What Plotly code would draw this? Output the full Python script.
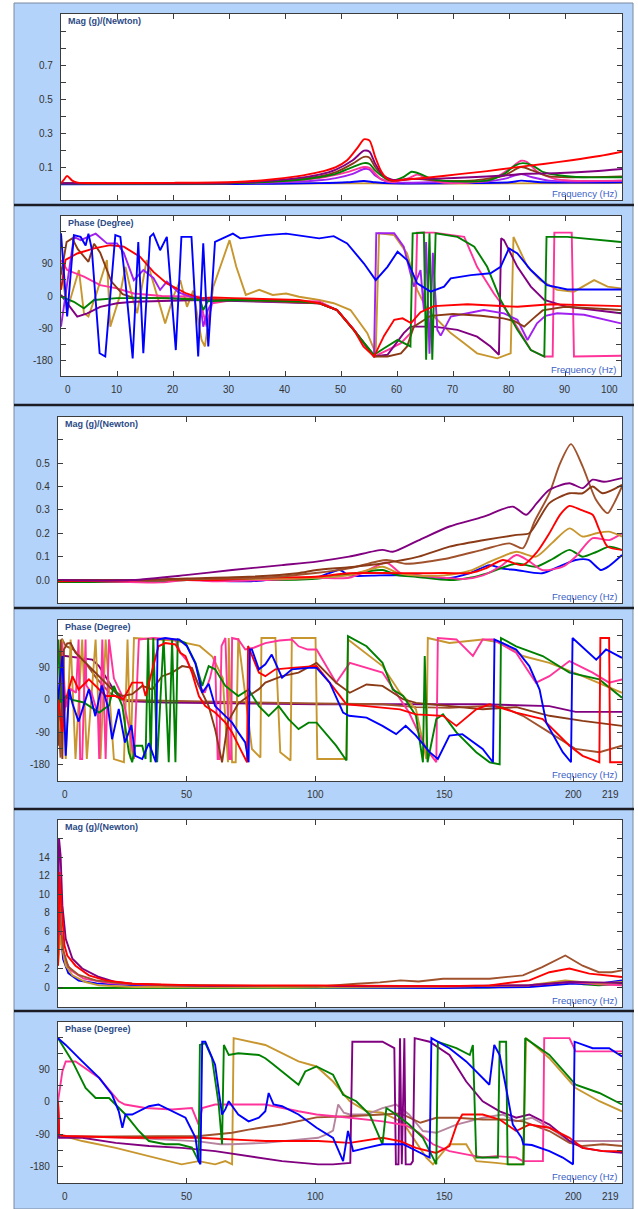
import plotly.graph_objects as go

# ---------------- data (frequency Hz, value) ----------------
# Panel 1 : magnitude 0-100 Hz
P1_GOLD = [(0,0.002),(20,0.002),(41,0.003),(56,0.004),(61,0.003),(81,0.004),(100,0.006)]
P1_BLUE = [(0,-0.001),(31,0.0),(46,0.005),(51,0.01),(54,0.018),(56,0.01),(59,0.004),(71,0.005),(80,0.01),(82,0.02),(85,0.012),(92,0.008),(100,0.01)]
P1_VIOLET = [(0,0.004),(31,0.005),(41,0.012),(46,0.022),(49,0.035),(52,0.06),(54,0.088),(55,0.085),(56,0.05),(58,0.015),(61,0.008),(66,0.01),(76,0.015),(79,0.03),(82,0.058),(84,0.04),(87,0.02),(91,0.015),(100,0.02)]
P1_PINK = [(0,0.005),(31,0.006),(41,0.02),(46,0.035),(51,0.07),(54,0.1),(55,0.095),(57,0.03),(59,0.012),(62,0.035),(63.5,0.055),(65.5,0.03),(68,0.008),(73,0.008),(77,0.03),(80,0.09),(82,0.137),(83,0.13),(85,0.07),(88,0.03),(91,0.02),(100,0.02)]
P1_GREEN = [(0,0.004),(31,0.005),(41,0.02),(46,0.04),(49,0.06),(52,0.1),(54,0.123),(55,0.118),(56,0.08),(58,0.03),(59,0.02),(61,0.04),(62.5,0.072),(64,0.06),(66,0.03),(68,0.02),(73,0.015),(76,0.02),(79,0.06),(81,0.11),(82.3,0.123),(84,0.11),(86,0.07),(89,0.05),(93,0.04),(100,0.04)]
P1_BROWN = [(0,0.004),(31,0.006),(41,0.025),(46,0.045),(49,0.07),(52,0.12),(54,0.16),(55,0.155),(56,0.1),(58,0.03),(59,0.02),(63,0.03),(67,0.02),(73,0.02),(79,0.05),(82,0.1),(84,0.08),(87,0.045),(91,0.04),(100,0.045)]
P1_PURPLE = [(0,0.005),(31,0.008),(41,0.03),(46,0.055),(49,0.085),(52,0.14),(54,0.196),(55,0.19),(56,0.12),(57.5,0.05),(59,0.025),(63,0.03),(67,0.032),(73,0.04),(79,0.05),(83,0.06),(89,0.065),(95,0.075),(100,0.088)]
P1_RED = [(0,0.005),(0.5,0.025),(1.1,0.047),(2,0.02),(3,0.008),(6,0.006),(20,0.007),(31,0.012),(37,0.025),(42,0.045),(46,0.07),(49,0.1),(51,0.14),(53,0.22),(54,0.263),(55,0.255),(56,0.16),(57,0.08),(58,0.035),(59,0.02),(61,0.025),(66,0.04),(71,0.058),(76,0.076),(81,0.098),(86,0.118),(91,0.14),(96,0.165),(100,0.19)]

# Panel 2 : phase 0-100 Hz
P2_GOLD = [(0,81),(1.1,-39),(3.2,72),(4.1,-48),(4.9,-57),(6.4,10),(8.2,100),(8.8,-85),(10.5,0),(11.5,81),(12.7,0),(13.6,-48),(15.3,100),(16.5,35),(18.6,-76),(20.1,0),(21.3,44),(22.5,-30),(23.6,15),(25.1,-122),(25.7,-140),(27.2,26),(30.1,155),(31.3,81),(33,3),(35.4,17),(37.8,3),(40.2,7),(42.5,-2),(46.1,-11),(48.7,-20),(51.7,-39),(54.7,-103),(56.2,-159),(56.8,174),(59.5,169),(61.8,118),(63.6,17),(65.4,-39),(67.2,-66),(69.6,-103),(72,-131),(74.3,-159),(77.9,-173),(80.3,-159),(80.8,164),(83.3,81),(85.6,44),(88.6,17),(91.6,12),(95.2,44),(97.6,26),(100,21)]
P2_PINK = [(0,100),(1.1,72),(4.1,54),(7,30),(10,21),(13,7),(18,0),(24.8,-2),(25.4,-48),(26,-85),(27,-20),(30.7,-11),(46.1,-15),(49.3,-39),(52.3,-94),(55.9,-168),(58.3,-150),(60.7,-131),(62.4,-103),(63.2,-80),(63.6,176),(66.6,176),(72,164),(74.3,81),(77.3,7),(80.3,-57),(83.9,-150),(86.3,-168),(87.8,-168),(88.1,176),(91.2,176),(91.6,-168),(100,-166)]
P2_PURPLE = [(0,3),(1.1,-20),(2.9,-57),(4.7,-48),(7,-30),(10,-20),(13,-16),(24.8,-11),(46.1,-20),(49.3,-39),(52.3,-94),(55.9,-168),(58.3,-163),(61.2,-103),(62.4,-85),(66.6,-85),(70.8,-94),(74.3,-113),(76.7,-140),(78.2,-163),(78.6,160),(79.1,155),(81.5,81),(83.9,26),(86.3,-11),(90.4,-30),(100,-48)]
P2_VIOLET = [(0,-85),(1,30),(2.3,164),(3.5,155),(6.2,173),(8.2,146),(10,146),(11.2,120),(13,44),(14.7,72),(16.5,50),(17.7,17),(18.9,40),(21,10),(24.8,-11),(25.4,-85),(26.2,-40),(27.2,-11),(30.7,-11),(46.1,-20),(49.3,-39),(52.3,-94),(55.9,-168),(56.3,174),(59.5,174),(61.2,137),(63,26),(64.2,72),(64.8,-39),(65.2,150),(65.8,-160),(66.4,120),(67.2,-94),(67.8,-110),(69.6,-57),(72.6,-48),(75.5,-39),(79.1,-48),(81.5,-66),(83.3,-122),(85,-76),(86.5,-55),(88.6,-48),(93.4,-52),(100,-76)]
P2_BROWN = [(0,60),(1,150),(2,160),(3,130),(4.9,95),(5.9,145),(7,120),(9,40),(11,5),(13,-5),(25,-8),(30,-10),(46,-20),(49.3,-39),(52.3,-94),(55.9,-168),(58.3,-168),(60.7,-159),(61.8,-140),(63,-85),(66,-55),(70,-50),(75,-55),(79,-62),(81,-70),(82.7,-85),(84.5,-60),(86,-40),(90,-30),(100,-39)]
P2_GREEN = [(0,-2),(2.3,-16),(4.1,-34),(5.9,-11),(10,-6),(18.9,-6),(24.8,-11),(25.4,-39),(26.2,-15),(30.7,-11),(42.5,-15),(46.1,-20),(49.3,-39),(52.3,-94),(55.9,-163),(57.7,-145),(60.1,-122),(62.4,-140),(62.8,174),(64.8,176),(65.2,-177),(65.8,174),(66.3,-177),(66.9,174),(70.8,164),(73.8,137),(76.1,81),(78.5,-11),(81.5,-94),(83.9,-150),(86.3,-168),(86.7,164),(90.4,164),(100,150)]
P2_RED = [(0,17),(0.8,100),(2.9,118),(5.9,132),(8.8,141),(11.2,137),(14.1,109),(16.5,67),(18.9,35),(22.4,7),(24.8,-6),(27.2,-4),(30.7,-6),(42.5,-11),(46.1,-20),(49.3,-39),(52.3,-94),(54,-140),(55.9,-168),(57.7,-110),(59.5,-66),(61,-62),(62.5,-75),(64.2,-45),(66.6,-28),(72.6,-23),(81.5,-30),(87.4,-23),(100,-28)]
P2_BLUE = [(0,174),(1.1,-57),(2.3,169),(3.5,164),(4.4,140),(4.9,173),(5.5,130),(6.9,-159),(7.9,-168),(9.7,169),(10.6,164),(11.5,40),(12.8,-173),(13.8,150),(14.7,-159),(15.9,164),(16.5,173),(17.7,127),(18.9,164),(20.5,-150),(21.5,164),(23.3,164),(24.5,-168),(25.4,146),(26.3,-140),(27.5,150),(30.7,173),(32,160),(36.6,169),(40.2,173),(46.1,160),(48.7,166),(51.1,146),(54.1,90),(56.2,44),(58.3,81),(60.1,123),(61.8,100),(63.6,35),(66,12),(68.4,26),(69.6,49),(73.2,58),(76.7,63),(78.5,81),(80,132),(81.5,118),(83.9,72),(86.8,30),(90.4,18),(100,18)]

# Panel 3 : magnitude 0-219 Hz
P3_BLUE = [(0,-0.005),(20,-0.003),(40,0.0),(50,0.005),(55,0.0),(75,-0.005),(85,0.005),(100,0.01),(109.4,0.043),(113,0.02),(125,0.02),(139,0.021),(150.8,0.007),(160,0.03),(167.6,0.064),(172,0.05),(178,0.043),(188,0.029),(195,0.06),(201,0.086),(206,0.086),(210.8,0.043),(214,0.06),(219,0.107)]
P3_GREEN = [(0,-0.008),(30,-0.008),(50,0.0),(60,0.005),(80,0.0),(100,0.005),(110,0.02),(126,0.043),(132,0.02),(139,0.014),(152,0.0),(160,0.01),(167,0.03),(178,0.071),(185.6,0.057),(192,0.09),(198.6,0.129),(203.7,0.1),(209,0.12),(214,0.143),(219,0.129)]
P3_PINK = [(0,0.0),(40,-0.01),(50,0.0),(60,-0.005),(80,0.0),(100,0.01),(113,0.01),(120,0.04),(127.5,0.075),(133,0.03),(139,0.02),(150,0.01),(158,0.005),(165,0.02),(172,0.06),(178,0.107),(183,0.08),(188,0.043),(196,0.057),(201,0.1),(207.6,0.179),(214,0.171),(219,0.2)]
P3_GOLD = [(0,0.0),(40,0.0),(60,0.005),(80,0.005),(100,0.01),(113,0.02),(126,0.057),(132,0.03),(139,0.02),(150,0.02),(160,0.04),(168,0.08),(178,0.121),(185.6,0.1),(192,0.16),(198.6,0.221),(203.7,0.186),(209,0.2),(214,0.207),(219,0.186)]
P3_RED = [(0,-0.005),(40,0.0),(60,0.0),(80,0.01),(100,0.014),(113,0.029),(126,0.03),(139,0.029),(150,0.03),(160,0.03),(166,0.05),(172.7,0.086),(180.5,0.064),(186,0.12),(190.8,0.2),(195,0.28),(198.6,0.317),(203,0.3),(207.6,0.279),(210,0.22),(213.4,0.143),(219,0.129)]
P3_SIENNA = [(0,0.0),(40,0.0),(60,0.005),(80,0.01),(100,0.03),(113,0.05),(127.5,0.086),(135,0.07),(150,0.09),(165,0.13),(175.3,0.157),(180.5,0.136),(185,0.25),(190.8,0.371),(195,0.5),(199.2,0.581),(203.7,0.486),(208.9,0.343),(213.4,0.286),(216,0.33),(219,0.4)]
P3_BROWN = [(0,0.0),(30,0.0),(50,0.007),(74,0.014),(93,0.029),(100.4,0.043),(113,0.055),(126,0.071),(140,0.1),(152,0.143),(165,0.17),(178,0.193),(183,0.2),(190.8,0.329),(198.6,0.371),(203.7,0.371),(207.6,0.4),(211.5,0.371),(219,0.407)]
P3_PURPLE = [(0,0.0),(28.8,0.0),(49.5,0.021),(67.6,0.043),(87,0.064),(100.4,0.079),(113,0.1),(126,0.129),(130,0.121),(140,0.17),(152,0.229),(165,0.27),(176.6,0.314),(181.8,0.279),(186,0.33),(190.8,0.386),(198.6,0.414),(203.7,0.393),(207.6,0.429),(212,0.42),(219,0.436)]

# Panel 4 : phase 0-219 Hz
P4_PURPLE = [(0,125),(3,122),(8,117),(13.3,112),(15.9,94),(19.8,48),(22.4,20),(26.2,-3),(41.7,-7),(67.6,-9),(101,-12),(126,-12),(164.9,-12),(190.8,-17),(201,-33),(219,-33)]
P4_SIENNA = [(0,-60),(1,-160),(1.5,170),(3,150),(6,140),(10,110),(15,60),(20,20),(25,0),(40,-2),(60,-5),(80,-8),(101,-10),(126,-12),(139,-20),(152,-22),(164.9,-17),(172.7,-20),(180.5,-44),(190.8,-90),(201,-136),(210.2,-145),(219,-127)]
P4_GOLD = [(0,-90),(1.7,168),(3,-164),(4.9,168),(6.8,-164),(9.4,168),(11.2,-164),(14.6,168),(16.5,-164),(18.5,168),(21.7,-164),(25.6,-173),(27,168),(28.2,-164),(29.5,172),(35,170),(45,165),(55,150),(60,120),(64,60),(65.5,-100),(66,-173),(66.3,172),(67.6,-173),(69,-173),(70,172),(75.3,-136),(78,-155),(78.6,-160),(79,172),(84.4,172),(86.3,-145),(89.5,-164),(90.3,-168),(90.8,172),(98.6,172),(100,172),(100.7,-164),(112,-164),(112.6,168),(126,94),(132.8,20),(139,-26),(141.7,-118),(143,-164),(143.6,172),(152,158),(164.9,168),(172.7,158),(180.5,122),(190.8,103),(203.7,66),(219,20)]
P4_PINK = [(0,100),(1.5,160),(3,-20),(5,30),(7,20),(8,168),(8.6,-164),(9.4,-164),(10.7,168),(11,40),(13,20),(15.5,-40),(16,-164),(17.2,168),(18.5,-164),(19.8,168),(21.7,60),(25,10),(28,-90),(29.5,-164),(31.4,168),(37,172),(45.6,168),(47.5,131),(50,110),(52,80),(54.7,40),(57,20),(59,60),(61,122),(62,-164),(62.6,-164),(63.5,150),(65,172),(66.5,-164),(67.2,-164),(67.6,172),(70,168),(72.7,140),(76,145),(80.5,158),(86,165),(90.8,168),(93.4,149),(97,140),(100.4,140),(108,48),(113.3,103),(126,76),(136.3,-35),(143,-136),(146.9,-173),(147.5,172),(154.7,168),(161.1,122),(164.9,168),(168.8,168),(177.9,131),(185.6,48),(190.8,66),(198.6,108),(207.6,76),(214,48),(219,57)]
P4_BROWN = [(0,-127),(1,168),(1.7,-164),(2.3,140),(3.6,157),(4.9,158),(6.8,131),(10.7,103),(14.6,76),(18.5,48),(21,29),(25,11),(28.8,16),(32.7,39),(36.6,29),(40.4,66),(44.3,76),(48.2,94),(52,89),(54.7,39),(58.5,-17),(61,-81),(63,-145),(63.7,-173),(66,-60),(70,-10),(74,11),(78,30),(80.5,48),(87,66),(93.4,76),(100.4,103),(108,48),(113.3,20),(119.8,43),(126,39),(134,2),(139,-8),(164.9,-26),(178,-20),(190.8,-44),(203.7,-58),(219,-72)]
P4_GREEN = [(0,168),(1,-7),(3,10),(5.6,0),(10,-7),(16,-35),(19.8,-15),(21.7,39),(25,-17),(27.5,-145),(28.8,-173),(30,-127),(32.7,-127),(34,-164),(35,172),(36,-173),(37,172),(38.5,-173),(41,172),(43,-173),(44.3,168),(45.6,-173),(46.5,168),(49.5,158),(53.4,103),(56,39),(58.5,94),(61,85),(65,39),(70,11),(74,29),(78,-17),(81.8,-44),(85.7,-17),(89.5,-53),(93.4,-81),(97.3,-63),(100.4,-63),(108,-127),(112,-168),(112.6,177),(119.8,149),(126,103),(130,29),(134,11),(139,-44),(141.7,-173),(142.4,122),(143.5,-173),(146.9,-53),(149.5,-40),(154.7,-90),(162.4,-145),(167.6,-173),(171.5,-179),(172,172),(177.9,149),(188.2,122),(198.6,76),(210.2,57),(219,6)]
P4_RED = [(0,2),(1.7,-90),(3,0),(5.6,66),(8,29),(12,57),(16,29),(18.5,11),(22.4,11),(25.4,2),(28.8,48),(32.7,48),(34,11),(39,149),(41.7,158),(45.6,154),(47.5,131),(49.5,122),(52,76),(54.7,11),(57.2,-17),(61,-35),(65,-63),(67.6,-90),(71.4,-145),(73.4,-173),(73.8,150),(75.3,122),(78,76),(80.5,66),(84.4,85),(90.8,89),(100.4,94),(105.5,48),(112,-12),(119.8,-17),(132.8,-26),(139,-40),(149.5,-44),(154.7,-72),(162.4,-26),(167.6,-12),(177.9,-35),(188.2,-53),(198.6,-127),(203.7,-155),(210.2,-173),(210.6,172),(214,172),(214.4,-173),(219,-173)]
P4_BLUE = [(0,2),(1.7,122),(3,-155),(4.3,30),(5.6,-10),(8,-60),(12,30),(14.5,-45),(17,40),(19.4,-20),(21,-109),(23.6,-25),(26,-118),(28.5,-70),(30,-155),(32.7,-164),(35.3,-120),(38,-173),(38.7,168),(41.7,172),(45.6,168),(47,168),(50,150),(53.4,100),(56,20),(58.5,45),(61,-17),(65,-44),(67.6,-63),(70,-90),(72.7,-118),(74,-173),(74.5,140),(75.3,140),(78,85),(80.5,99),(83,126),(87,62),(90.8,85),(97.3,89),(100.4,89),(105.5,48),(110.7,-35),(113,-44),(119.8,-49),(126,-72),(131.3,-95),(135,-72),(139,-99),(144.3,-145),(147.5,-164),(152,-99),(157,-95),(164.9,-136),(168.9,-173),(169.5,168),(177.9,140),(183,94),(187,29),(189.6,-63),(196,-145),(199.2,-173),(199.8,172),(209,112),(212.8,140),(219,117)]

# Panel 5 : magnitude 0-219 Hz
P5_GREEN = [(0,-0.1),(100,-0.1),(167,-0.05),(180,0.1),(190.8,0.36),(198.6,0.54),(204,0.3),(210,0.18),(219,0.36)]
P5_BLUE = [(0,2.5),(0.4,12),(1,6),(2,3),(4,1.5),(8,0.7),(15,0.4),(30,0.2),(60,0.05),(100,-0.05),(150,-0.1),(160,-0.05),(183,0.0),(198.6,0.36),(210,0.36),(219,0.72)]
P5_PINK = [(0,3),(0.6,9),(1.2,6),(2.5,3),(5,1.8),(10,0.9),(20,0.4),(40,0.2),(80,0.1),(100,0.05),(150,0.05),(183,0.2),(198.6,0.54),(210,0.3),(219,0.2)]
P5_GOLD = [(0,2.3),(1,5.6),(1.7,4.1),(3,2.3),(5.6,1.26),(10.7,0.54),(15.9,0.18),(30,0.0),(100,0.0),(150,0.05),(183,0.2),(197,0.72),(210,0.36),(219,0.54)]
P5_PURPLE = [(0,4),(0.4,16),(1,14.2),(1.7,8.8),(3,5.2),(5.6,3.05),(9.4,2.0),(15.9,1.08),(22.4,0.54),(28.8,0.36),(41.7,0.18),(60,0.1),(100,0.1),(150,0.1),(183,0.2),(198.6,0.54),(219,0.45)]
P5_BROWN = [(0,3),(0.5,10),(1,7),(2,4),(4,2.2),(8,1.3),(15,0.7),(25,0.4),(40,0.25),(60,0.18),(80,0.15),(100.4,0.05),(116,0.36),(125,0.5),(133,0.72),(140,0.6),(149.5,0.9),(167.6,0.9),(180.5,1.26),(188,2.15),(197,3.4),(203.7,2.3),(210,1.6),(215,1.6),(219,1.8)]
P5_RED = [(0,2.3),(0.6,12.4),(1,10.2),(1.7,7),(2.5,4.5),(3.6,3.4),(6.8,2.3),(12,1.26),(18.5,0.72),(28.8,0.36),(54.7,0.18),(101,0.18),(150,0.1),(167.6,0.18),(183,0.72),(190.8,1.6),(198.6,2.0),(206.3,1.44),(219,1.08)]

# Panel 6 : phase 0-219 Hz
P6_GOLD = [(0,-91),(9.4,-109),(22.4,-128),(35.3,-151),(48,-174),(54.6,-165),(61,-174),(65,-165),(67.6,-174),(68.2,178),(80.5,159),(93.4,113),(100.4,99),(106.8,57),(113.3,2),(119.8,-26),(126,-30),(134,-58),(143,-155),(145.6,-174),(152,-118),(158.5,-118),(162.4,-165),(170,-170),(175.3,-174),(180.5,-174),(181.8,178),(190.8,122),(201,39),(210.2,2),(219,-26)]
P6_MAUVE = [(0,2),(0.4,-95),(28.8,-100),(54.6,-110),(63,-118),(67.6,-118),(80.5,-114),(101,-100),(104,-91),(106.8,-80),(108.8,-7),(111,-30),(113.3,-35),(119.8,-35),(126,-17),(131.3,-7),(136.3,-35),(141.7,-81),(146.9,-86),(154.7,-63),(164.9,-44),(172.7,-35),(177.9,-54),(184,-44),(190.8,-72),(198.6,-109),(203.7,-109),(219,-109)]
P6_BROWN = [(0,2),(0.4,-95),(5.6,-97),(30,-95),(55,-95),(67.6,-86),(74,-77),(87,-63),(100.4,-43),(113,-40),(126,-35),(133,-32),(140.7,-58),(146.9,-44),(154.7,-44),(164.9,-49),(172.7,-49),(180.5,-54),(190.8,-81),(198.6,-114),(203.7,-123),(211.5,-118),(219,-123)]
P6_PURPLE = [(0,2),(0.4,-100),(9.4,-100),(22.4,-114),(35.3,-123),(48,-128),(61,-137),(74,-151),(87,-165),(101,-174),(106.8,-174),(113.5,-170),(114.3,168),(126,168),(130.6,150),(131.2,-174),(132.2,-174),(132.8,178),(133.5,-174),(134.5,178),(135,-174),(137,-174),(137.8,-165),(138.5,178),(144.3,168),(152,131),(158.5,57),(164.9,2),(171.5,-26),(177.9,-44),(183,-35),(190.8,-63),(198.6,-109),(203.7,-128),(211.5,-137),(219,-142)]
P6_PINK = [(0,2),(1.7,85),(3,113),(6.8,113),(16,67),(23.6,2),(26,-7),(34,-17),(44.3,-21),(52,-17),(54.6,-63),(56,-17),(61,-7),(80.5,-7),(93.4,-26),(100.4,-35),(113.3,-44),(126,-54),(135,-65),(140,-85),(145.6,-118),(152,-137),(158.5,-146),(164.9,-155),(170,-151),(177.9,-155),(180.5,-165),(188.3,-165),(188.8,178),(198.6,178),(201,141),(210.2,141),(219,141)]
P6_RED = [(0,2),(0.4,-91),(3,-95),(28.8,-100),(54.6,-100),(67.6,-104),(80.5,-109),(101,-109),(113.3,-114),(126,-100),(132.8,-109),(139,-128),(146.9,-142),(152,-123),(155,-60),(157,-35),(164.9,-35),(171.5,-49),(177.9,-81),(183,-63),(190.8,-72),(198.6,-100),(203.7,-128),(211.5,-137),(219,-137)]
P6_GREEN = [(0,178),(5.6,113),(10.7,39),(14.6,11),(19.8,11),(23.6,-17),(26.2,-35),(31.4,-81),(35.3,-109),(41.7,-118),(47,-118),(52,-127),(54.6,-165),(55.1,159),(57.2,164),(59.8,122),(62.4,-7),(63.7,-118),(64.4,159),(66.3,131),(70,136),(78,131),(80.5,122),(83,108),(87,85),(93.4,48),(96,85),(100.4,99),(106.8,76),(110.7,20),(115.8,2),(121,-35),(126,-118),(127.5,-17),(131.3,-35),(136.3,-63),(141.7,-100),(146.9,-174),(147.5,168),(154.7,150),(159.9,131),(161.1,159),(162.4,-155),(170.8,-155),(171.5,168),(174,168),(174.6,-174),(180.8,-174),(181.4,178),(190.8,131),(201,48),(210.2,25),(219,-7)]
P6_BLUE = [(0,178),(3,159),(9.4,113),(16,67),(21,20),(23.6,-26),(25,-72),(26.2,-35),(28.8,-35),(31.4,-26),(35.3,-12),(39,-7),(44.3,-26),(49.5,-44),(53.4,-100),(54.6,-165),(55.3,-174),(56,168),(57.2,168),(61,104),(63.7,-35),(65,-20),(66.3,2),(70,-35),(74,-54),(78,-44),(80.5,-26),(81.8,25),(83.7,-7),(87,-12),(93.4,-35),(100.4,-72),(106.8,-100),(110.7,-165),(112.6,-81),(114.6,-137),(119.8,-128),(126,-118),(134,-118),(139,-137),(144.3,-155),(145,178),(152,150),(158.5,113),(164.9,67),(167.5,48),(169.4,159),(171.5,131),(174,39),(176.6,-63),(180,-100),(180.7,-118),(184,-120),(190.8,-137),(196,-155),(200,-174),(200.6,168),(207.6,150),(214,150),(219,127)]

# axis ticks / labels
MAG1_TICKS = [0.1,0.2,0.3,0.4,0.5,0.6,0.7,0.8,0.9]
MAG1_TEXT = ['0.1','','0.3','','0.5','','0.7','','']
MAG2_TICKS = [0.0,0.1,0.2,0.3,0.4,0.5,0.6]
MAG2_TEXT = ['0.0','0.1','0.2','0.3','0.4','0.5','']
MAG3_TICKS = [0,2,4,6,8,10,12,14,16]
MAG3_TEXT = ['0','2','4','6','8','10','12','14','']
PHASE_TICKS = [-180,-135,-90,-45,0,45,90,135,180]
PHASE_TEXT = ['-180','','-90','','0','','90','','']
FREQ_A_TICKS = [0,10,20,30,40,50,60,70,80,90,100]
FREQ_B_TICKS = [0,50,100,150,200,219]

C = dict(red='#ff0000', purple='#800080', brown='#8b3a16', sienna='#a0522d',
         green='#008000', blue='#0000ff', pink='#ff3399', gold='#c8962e',
         violet='#a020f0', mauve='#b7849f')

W, H = 638, 1209
PLOT_PX = [(61, 622, 14, 200), (61, 621, 216, 376), (58, 622, 417, 603),
           (58, 622, 620, 781), (58, 622, 820, 1007), (58, 622, 1022, 1183)]
FRAME_PX = [(14, 633, 3, 205), (14, 633, 205, 405), (14, 633, 405, 608),
            (14, 633, 608, 809), (14, 633, 809, 1011), (14, 633, 1011, 1209)]
X_RANGES = [[0, 100], [0, 100], [0, 219], [0, 219], [0, 219], [0, 219]]
Y_RANGES = [[-0.094, 1.0], [-222, 222], [-0.098, 0.697], [-225, 222], [-2.15, 18], [-226, 223]]

def fx(px): return px / W
def fy(py): return 1 - py / H

fig = go.Figure()

def add(panel, pts, color, shape='linear', width=1.9):
    sfx = '' if panel == 1 else str(panel)
    fig.add_trace(go.Scatter(
        x=[p[0] for p in pts], y=[p[1] for p in pts], mode='lines',
        line=dict(color=color, width=width, shape=shape, smoothing=0.7 if shape == 'spline' else None),
        xaxis='x' + sfx, yaxis='y' + sfx, showlegend=False, hoverinfo='skip'))

for pts, c in [(P1_GOLD,'gold'),(P1_BLUE,'blue'),(P1_VIOLET,'violet'),(P1_PINK,'pink'),(P1_BROWN,'brown'),(P1_GREEN,'green'),(P1_PURPLE,'purple'),(P1_RED,'red')]:
    add(1, pts, C[c], 'spline')
for pts, c in [(P2_GOLD,'gold'),(P2_PINK,'pink'),(P2_PURPLE,'purple'),(P2_VIOLET,'violet'),(P2_BROWN,'brown'),(P2_GREEN,'green'),(P2_RED,'red'),(P2_BLUE,'blue')]:
    add(2, pts, C[c])
for pts, c in [(P3_BLUE,'blue'),(P3_GREEN,'green'),(P3_PINK,'pink'),(P3_GOLD,'gold'),(P3_RED,'red'),(P3_SIENNA,'sienna'),(P3_BROWN,'brown'),(P3_PURPLE,'purple')]:
    add(3, pts, C[c], 'spline')
for pts, c in [(P4_PURPLE,'purple'),(P4_SIENNA,'sienna'),(P4_GOLD,'gold'),(P4_PINK,'pink'),(P4_BROWN,'brown'),(P4_GREEN,'green'),(P4_RED,'red'),(P4_BLUE,'blue')]:
    add(4, pts, C[c])
for pts, c in [(P5_GREEN,'green'),(P5_BLUE,'blue'),(P5_PINK,'pink'),(P5_GOLD,'gold'),(P5_PURPLE,'purple'),(P5_BROWN,'sienna'),(P5_RED,'red')]:
    add(5, pts, C[c])
for pts, c in [(P6_GOLD,'gold'),(P6_MAUVE,'mauve'),(P6_BROWN,'sienna'),(P6_PURPLE,'purple'),(P6_PINK,'pink'),(P6_RED,'red'),(P6_GREEN,'green'),(P6_BLUE,'blue')]:
    add(6, pts, C[c])

FONT = 'Liberation Sans, Arial, sans-serif'
layout = dict(width=W, height=H, margin=dict(l=0, r=0, t=0, b=0),
              paper_bgcolor='white', plot_bgcolor='rgba(0,0,0,0)',
              font=dict(family=FONT, size=10, color='#3a3a3a'), showlegend=False)

Y_TICKS = [(MAG1_TICKS, MAG1_TEXT), (PHASE_TICKS, PHASE_TEXT), (MAG2_TICKS, MAG2_TEXT),
           (PHASE_TICKS, PHASE_TEXT), (MAG3_TICKS, MAG3_TEXT), (PHASE_TICKS, PHASE_TEXT)]
shapes, annotations = [], []
for i in range(6):
    x0, x1, y0, y1 = PLOT_PX[i]
    sfx = '' if i == 0 else str(i + 1)
    xt = FREQ_A_TICKS if i < 2 else FREQ_B_TICKS
    common = dict(showline=True, linecolor='#3c3c3c', linewidth=1.2, mirror='allticks',
                  ticks='inside', ticklen=5, tickcolor='#3c3c3c', tickwidth=1,
                  showgrid=False, zeroline=False, fixedrange=True)
    layout['xaxis' + sfx] = dict(domain=[fx(x0), fx(x1)], range=X_RANGES[i], anchor='y' + sfx,
                                 tickvals=xt, showticklabels=False, **common)
    tv, tt = Y_TICKS[i]
    layout['yaxis' + sfx] = dict(domain=[fy(y1), fy(y0)], range=Y_RANGES[i], anchor='x' + sfx,
                                 tickvals=tv, ticktext=tt, ticklabelstandoff=5,
                                 tickfont=dict(size=10, color='#333333'), **common)
    fx0, fx1, fy0, fy1 = FRAME_PX[i]
    shapes.append(dict(type='rect', xref='paper', yref='paper', layer='below',
                       x0=fx(fx0), x1=fx(fx1), y0=fy(fy1), y1=fy(fy0),
                       fillcolor='#b3d3fa', line=dict(color='#7a8aa0', width=1)))
    shapes.append(dict(type='rect', xref='paper', yref='paper', layer='below',
                       x0=fx(x0), x1=fx(x1), y0=fy(y1), y1=fy(y0),
                       fillcolor='white', line=dict(width=0)))
    ttl = 'Mag (g)/(Newton)' if i % 2 == 0 else 'Phase (Degree)'
    annotations.append(dict(text='<b>' + ttl + '</b>', xref='paper', yref='paper', x=fx(x0 + 5), y=fy(y0 + 7),
                            xanchor='left', yanchor='middle', showarrow=False,
                            font=dict(family=FONT, size=9, color='#2c4a86')))
    annotations.append(dict(text='Frequency (Hz)', xref='paper', yref='paper', x=fx(x1 - 3), y=fy(y1 - 7),
                            xanchor='right', yanchor='middle', showarrow=False,
                            font=dict(family=FONT, size=9.5, color='#3a5fc8')))
    if i % 2 == 1:
        xr = 'x' + sfx
        for k, v in enumerate(xt):
            if k == 0:
                anc, sh = 'left', 2
            elif k == len(xt) - 1:
                anc, sh = 'right', -1
            else:
                anc, sh = 'center', 0
            annotations.append(dict(text=str(v), xref=xr, yref='paper', x=v, y=fy(y1 + 13),
                                    xanchor=anc, xshift=sh, yanchor='middle', showarrow=False,
                                    font=dict(family=FONT, size=10, color='#333333')))

for sep in [205, 405, 608, 809, 1011]:
    shapes.append(dict(type='line', xref='paper', yref='paper', layer='below',
                       x0=fx(14), x1=fx(634), y0=fy(sep), y1=fy(sep),
                       line=dict(color='#1c1c24', width=2.5)))

layout['shapes'] = shapes
layout['annotations'] = annotations
fig.update_layout(**layout)
fig.write_html('out.html')
